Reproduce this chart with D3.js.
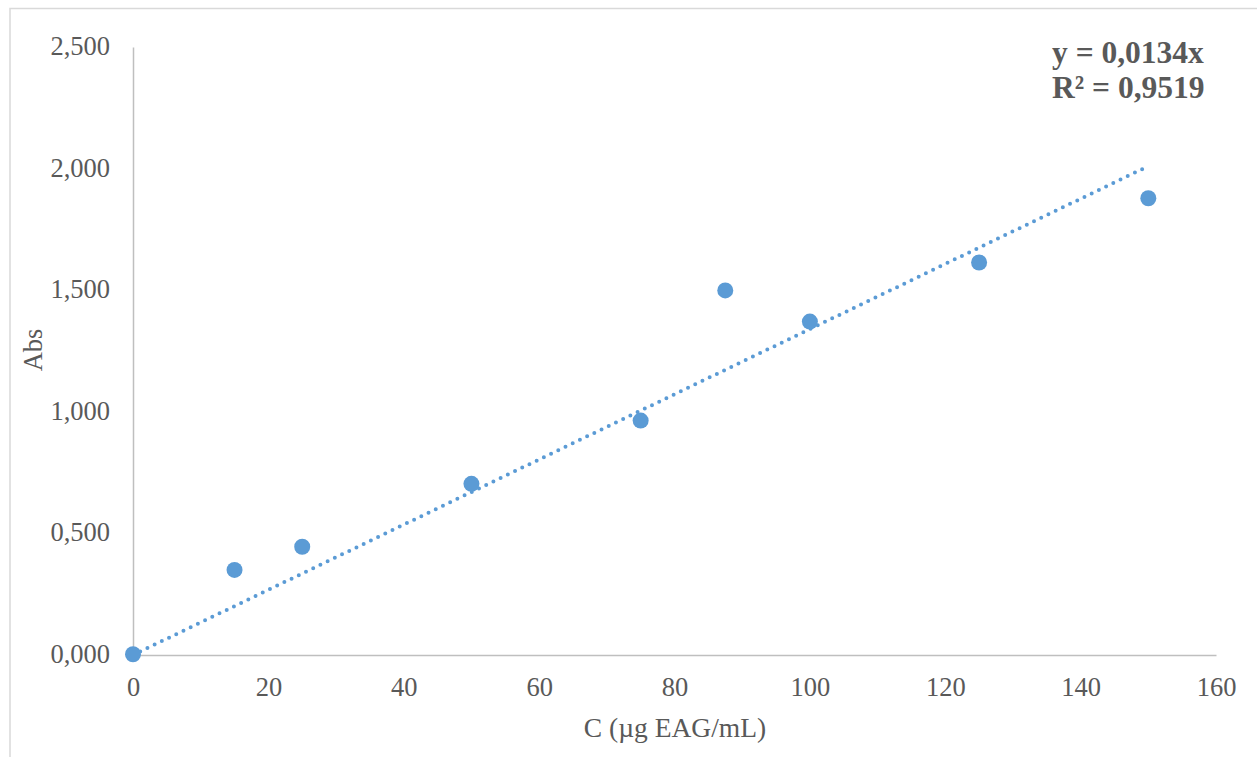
<!DOCTYPE html>
<html><head><meta charset="utf-8">
<script src="https://cdn.jsdelivr.net/npm/d3@7"></script>
<style>body{margin:0;background:#fff}svg{display:block}</style>
</head><body>
<svg id="c" width="1257" height="757"></svg>
<script>
const xValues = [0, 15, 25, 50, 75, 87.5, 100, 125, 150];
const yValues = [0.003, 0.350, 0.445, 0.704, 0.964, 1.499, 1.371, 1.614, 1.878];
const xTicks = [0, 20, 40, 60, 80, 100, 120, 140, 160];
const yTicks = [0, 0.5, 1.0, 1.5, 2.0, 2.5];
const slope = 0.0134;
const eqLines = ["y = 0,0134x", "R² = 0,9519"];
const xTitle = "C (µg EAG/mL)";
const yTitle = "Abs";

const svg = d3.select("#c");
const font = "'Liberation Serif','Times New Roman',serif";
const grey = "#595959";
const x = d3.scaleLinear().domain([0, 160]).range([133, 1216]);
const y = d3.scaleLinear().domain([0, 2.5]).range([655, 47]);

// outer frame
svg.append("rect").attr("x", 10).attr("y", 8.5).attr("width", 1400).attr("height", 900)
  .attr("fill", "none").attr("stroke", "#d9d9d9").attr("stroke-width", 1.5);

const fmtY = v => d3.format(",.3f")(v).replace(".", ",");

// y axis
const ya = svg.append("g").attr("transform", `translate(${x(0)},0)`)
  .call(d3.axisLeft(y).tickValues(yTicks).tickSize(0).tickPadding(23).tickFormat(fmtY));
ya.select(".domain").attr("stroke", "#bfbfbf").attr("stroke-width", 1.5);
ya.selectAll("text").attr("font-family", font).attr("font-size", 26.5).attr("fill", grey).attr("dy", "0.28em");

// x axis
const xa = svg.append("g").attr("transform", `translate(0,${y(0)})`)
  .call(d3.axisBottom(x).tickValues(xTicks).tickSize(0).tickPadding(22).tickFormat(d3.format("d")));
xa.select(".domain").attr("stroke", "#bfbfbf").attr("stroke-width", 1.5);
xa.selectAll("text").attr("font-family", font).attr("font-size", 26.5).attr("fill", grey).attr("dy", "0.71em");

// trendline
svg.append("line")
  .attr("x1", x(0)).attr("y1", y(0)).attr("x2", x(d3.max(xValues))).attr("y2", y(slope * d3.max(xValues)))
  .attr("stroke", "#5b9bd5").attr("stroke-width", 4).attr("stroke-linecap", "round")
  .attr("stroke-dasharray", "0,8");

// points
svg.append("g").selectAll("circle").data(xValues.map((v, i) => [v, yValues[i]])).join("circle")
  .attr("cx", d => x(d[0])).attr("cy", d => y(d[1])).attr("r", 8).attr("fill", "#5b9bd5");

// equation
svg.append("g").selectAll("text").data(eqLines).join("text")
  .attr("x", 1052).attr("y", (d, i) => 63 + i * 35)
  .attr("font-family", font).attr("font-weight", "bold").attr("font-size", 31.5).attr("fill", grey)
  .text(d => d);

// axis titles
svg.append("text").attr("x", 675).attr("y", 737).attr("text-anchor", "middle")
  .attr("font-family", font).attr("font-size", 27.5).attr("fill", grey).text(xTitle);
svg.append("text").attr("transform", `translate(42,350) rotate(-90)`).attr("text-anchor", "middle")
  .attr("font-family", font).attr("font-size", 26.5).attr("fill", grey).text(yTitle);
</script>
</body></html>
